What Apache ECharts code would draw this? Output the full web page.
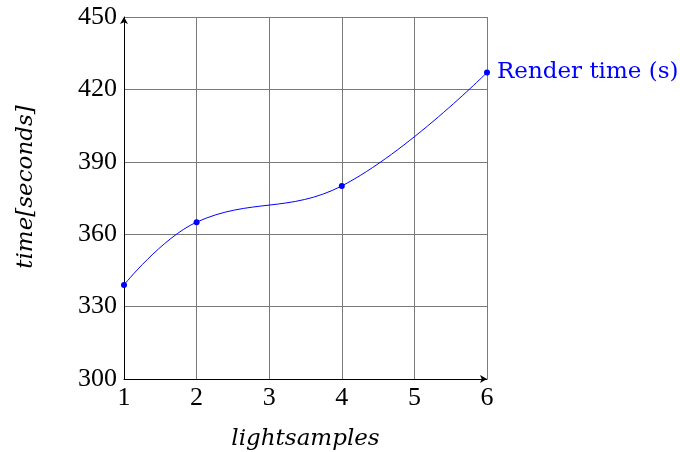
<!DOCTYPE html>
<html><head><meta charset="utf-8">
<script src="https://cdn.jsdelivr.net/npm/echarts@6/dist/echarts.min.js"></script>
<style>html,body{margin:0;padding:0;background:#fff}#c{width:680px;height:452px}</style>
</head><body><div id="c"></div>
<script>
const xValues = [1, 2, 4, 6];
const renderTimes = [339, 365, 380, 427];
const seriesName = 'Render time (s)';
const xTicks = [1, 2, 3, 4, 5, 6];
const yTicks = [300, 330, 360, 390, 420, 450];

const FONT = 'Liberation Serif';
const FONT2 = 'DejaVu Serif';
const chart = echarts.init(document.getElementById('c'));
chart.setOption({
  animation: false,
  grid: {left: 124, right: 193, top: 17, bottom: 73, outerBoundsMode: 'none', containLabel: false},
  xAxis: {
    type: 'value', min: xTicks[0], max: xTicks[xTicks.length-1], interval: 1,
    name: 'lightsamples', nameLocation: 'middle', nameGap: 49,
    nameTextStyle: {fontFamily: FONT2, fontStyle: 'italic', fontSize: 23, color: '#000'},
    axisLine: {show: true, lineStyle: {color: '#000', width: 1}, symbol: ['none', 'arrow'], symbolSize: [6, 7]},
    axisTick: {show: false},
    axisLabel: {fontFamily: FONT, fontSize: 26, color: '#000', margin: 6},
    splitLine: {show: true, lineStyle: {color: '#7a7a7a', width: 1}}
  },
  yAxis: {
    type: 'value', min: yTicks[0], max: yTicks[yTicks.length-1], interval: 30,
    name: 'time[seconds]', nameLocation: 'middle', nameGap: 86, nameRotate: 90,
    nameTextStyle: {fontFamily: FONT2, fontStyle: 'italic', fontSize: 23, color: '#000', padding: [0, 0, 0, 22]},
    axisLine: {show: true, lineStyle: {color: '#000', width: 1}, symbol: ['none', 'arrow'], symbolSize: [6, 7]},
    axisTick: {show: false},
    axisLabel: {fontFamily: FONT, fontSize: 26, color: '#000', margin: 7},
    splitLine: {show: true, lineStyle: {color: '#7a7a7a', width: 1}}
  },
  series: [{
    name: seriesName, type: 'line', smooth: 0.4,
    data: xValues.map((x, i) => {
      const d = {value: [x, renderTimes[i]]};
      if (i === xValues.length - 1) d.label = {show: true, position: 'right', distance: 7, formatter: seriesName,
        fontFamily: FONT2, fontSize: 23, color: '#0000ff'};
      return d;
    }),
    symbol: 'circle', symbolSize: 6,
    itemStyle: {color: '#0000ff'},
    lineStyle: {color: '#0000ff', width: 1},
    clip: false
  }]
});
</script></body></html>
